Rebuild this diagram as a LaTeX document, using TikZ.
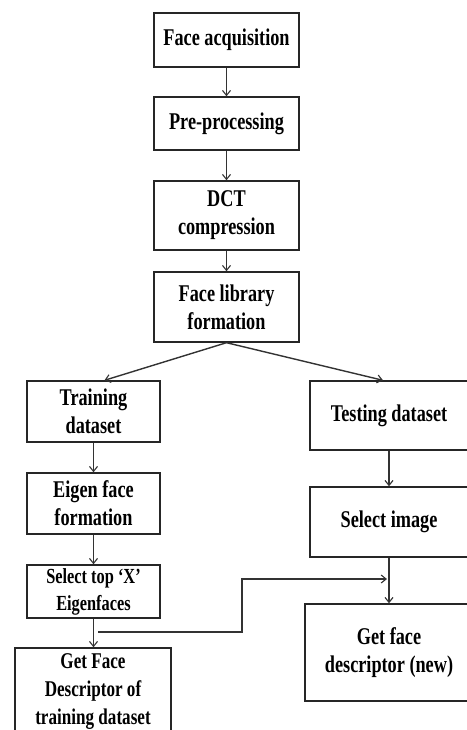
\documentclass[tikz,border=0pt]{standalone}
\usepackage{fontspec}
\setmainfont{Liberation Serif}[FakeStretch=0.76]
\usepackage{tikz}
\usetikzlibrary{arrows.meta,calc}

\begin{document}
\begin{tikzpicture}[
  x=1pt, y=-1pt,
  every node/.style={font=\fontsize{24}{28}\selectfont\bfseries},
  blk/.style={rectangle, draw=black!85, line width=1.4pt, align=center,
              inner sep=2pt},
  arr/.style={-{Straight Barb[length=5pt,width=8pt,line width=1.1pt]},
              line width=1.4pt, draw=black!80},
]
\useasboundingbox (0,0) rectangle (466,730);

%% ─ Main column ─────────────────────────────────────────────────────────────
\node[blk, minimum width=145pt, minimum height=54pt] (acq) at (226.5, 40.0)  {Face acquisition};
\node[blk, minimum width=145pt, minimum height=53pt] (pre) at (226.5,123.5)  {Pre-processing};
\node[blk, minimum width=145pt, minimum height=69pt] (dct) at (226.5,215.5)  {DCT\\compression};
\node[blk, minimum width=145pt, minimum height=70pt] (lib) at (226.5,307.0)  {Face library\\formation};

%% ─ Training branch ──────────────────────────────────────────────────────────
\node[blk, minimum width=133pt, minimum height=61pt] (trn) at ( 93.5,411.5)  {Training\\dataset};
\node[blk, minimum width=133pt, minimum height=61pt] (eig) at ( 93.5,503.5)  {Eigen face\\formation};
\node[blk, minimum width=133pt, minimum height=53pt,
      font=\fontsize{21.5}{27}\selectfont\bfseries]
     (top) at ( 93.5,591.5)  {Select top `X'\\Eigenfaces};
\node[blk, minimum width=156pt, minimum height=88pt,
      font=\fontsize{22.5}{28}\selectfont\bfseries]
     (gfd) at ( 93.0,692.0)  {Get Face\\Descriptor of\\training dataset};

%% ─ Testing branch ───────────────────────────────────────────────────────────
\node[blk, minimum width=158pt, minimum height=69pt] (tst) at (389.0,415.5)  {Testing dataset};
\node[blk, minimum width=158pt, minimum height=70pt] (img) at (389.0,522.0)  {Select image};
\node[blk, minimum width=168pt, minimum height=97pt] (new) at (389.0,652.5)  {Get face\\descriptor (new)};

%% ─ Arrows ───────────────────────────────────────────────────────────────────
\draw[arr] (acq.south) -- (pre.north);
\draw[arr] (pre.south) -- (dct.north);
\draw[arr] (dct.south) -- (lib.north);
\draw[arr] (lib.south) -- ([xshift=11pt]trn.north);
\draw[arr] (lib.south) -- ([xshift=-6pt]tst.north);

\draw[arr] (trn.south) -- (eig.north);
\draw[arr] (eig.south) -- (top.north);
\draw[arr] (top.south) -- (top.south |- gfd.north);

\draw[arr] (tst.south) -- (img.north);
\draw[arr] (img.south) -- (new.north);

%% ─ Descriptor link into the test path ──────────────────────────────────────
\coordinate (tap)  at ( 98,632);
\coordinate (join) at (387,579);
\draw[arr] (tap) -- (242,632) -- (242,579) -- (join);

\end{tikzpicture}
\end{document}
